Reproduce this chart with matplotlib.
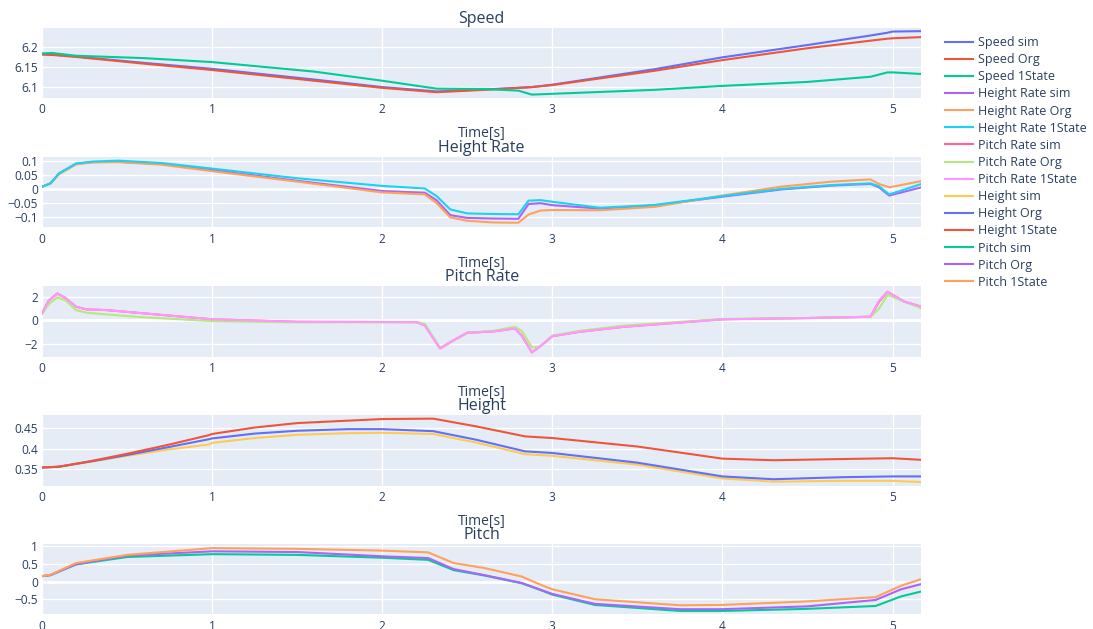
import numpy as np
import matplotlib.pyplot as plt

plt.rcParams['font.family'] = ['Open Sans', 'DejaVu Sans']

# --- Speed ---
t_speed = [0, 0.06, 0.2, 0.6, 1.0, 1.6, 2.0, 2.32, 2.6, 2.8, 2.88, 3.0, 3.6, 4.0, 4.5, 4.87, 4.97, 5.0, 5.17]
speed_sim = [6.182, 6.181, 6.176, 6.160, 6.145, 6.118, 6.099, 6.088, 6.093, 6.097, 6.099, 6.105,
             6.144, 6.174, 6.205, 6.229, 6.236, 6.239, 6.240]
speed_org = [6.181, 6.180, 6.175, 6.158, 6.142, 6.115, 6.097, 6.086, 6.092, 6.097, 6.099, 6.104,
             6.140, 6.167, 6.197, 6.216, 6.221, 6.222, 6.225]
speed_1state = [6.184, 6.185, 6.178, 6.172, 6.162, 6.138, 6.115, 6.095, 6.094, 6.090, 6.080, 6.082,
                6.092, 6.102, 6.112, 6.125, 6.136, 6.136, 6.132]

# --- Height Rate ---
t_hr = [0, 0.05, 0.1, 0.2, 0.3, 0.45, 0.7, 1.0, 1.5, 2.0, 2.25, 2.32, 2.4, 2.5, 2.65, 2.8, 2.86,
        2.93, 3.0, 3.28, 3.6, 4.0, 4.34, 4.64, 4.87, 4.92, 4.98, 5.17]
hr_sim = [0.008, 0.02, 0.055, 0.089, 0.095, 0.096, 0.088, 0.067, 0.029, -0.007, -0.013, -0.04,
          -0.092, -0.102, -0.104, -0.105, -0.053, -0.050, -0.057, -0.069, -0.058, -0.027, -0.002,
          0.012, 0.018, 0.006, -0.023, 0.006]
hr_org = [0.008, 0.02, 0.052, 0.087, 0.094, 0.095, 0.086, 0.063, 0.026, -0.012, -0.019, -0.05,
          -0.100, -0.112, -0.118, -0.119, -0.090, -0.076, -0.074, -0.075, -0.063, -0.023, 0.008,
          0.026, 0.034, 0.018, 0.006, 0.028]
hr_1state = [0.008, 0.02, 0.055, 0.090, 0.097, 0.100, 0.092, 0.072, 0.038, 0.011, 0.002, -0.025,
             -0.072, -0.086, -0.088, -0.089, -0.041, -0.039, -0.045, -0.066, -0.056, -0.025, 0.0,
             0.014, 0.020, 0.010, -0.019, 0.018]

# --- Pitch Rate ---
t_pr = [0, 0.04, 0.09, 0.14, 0.2, 0.26, 0.38, 0.6, 1.0, 1.5, 2.2, 2.25, 2.34, 2.42, 2.5, 2.65,
        2.78, 2.82, 2.88, 2.93, 3.0, 3.16, 3.42, 4.0, 4.5, 4.87, 4.92, 4.97, 5.07, 5.17]
pr_sim = [0.6, 1.7, 2.3, 1.9, 1.17, 0.94, 0.88, 0.6, 0.09, -0.12, -0.15, -0.4, -2.4, -1.7, -1.06,
          -0.95, -0.69, -1.3, -2.74, -2.2, -1.35, -0.98, -0.55, 0.09, 0.2, 0.31, 1.6, 2.45, 1.6, 1.17]
pr_org = [0.55, 1.4, 1.97, 1.7, 0.88, 0.66, 0.51, 0.26, -0.06, -0.17, -0.15, -0.3, -2.35, -1.7,
          -1.06, -0.9, -0.55, -0.9, -2.31, -2.25, -1.3, -0.9, -0.45, 0.12, 0.2, 0.31, 1.0, 2.19,
          1.6, 1.03]
pr_1state = [0.6, 1.7, 2.3, 1.9, 1.17, 0.94, 0.88, 0.6, 0.1, -0.12, -0.15, -0.45, -2.4, -1.7,
             -1.06, -0.95, -0.69, -1.35, -2.74, -2.2, -1.35, -0.98, -0.55, 0.09, 0.2, 0.31, 1.7,
             2.45, 1.6, 1.17]

# --- Height ---
t_h = [0, 0.1, 0.3, 0.5, 0.75, 0.98, 1.0, 1.25, 1.5, 1.8, 2.0, 2.3, 2.55, 2.84, 3.0, 3.5, 4.0,
       4.3, 4.7, 5.0, 5.17]
h_sim = [0.353, 0.355, 0.368, 0.382, 0.398, 0.410, 0.414, 0.426, 0.434, 0.438, 0.439, 0.436,
         0.415, 0.386, 0.382, 0.360, 0.326, 0.318, 0.320, 0.320, 0.317]
h_org = [0.353, 0.355, 0.369, 0.384, 0.404, 0.423, 0.425, 0.437, 0.444, 0.448, 0.448, 0.443,
         0.422, 0.393, 0.389, 0.365, 0.331, 0.324, 0.329, 0.331, 0.331]
h_1state = [0.353, 0.355, 0.370, 0.387, 0.410, 0.433, 0.436, 0.452, 0.463, 0.469, 0.473, 0.474,
            0.455, 0.430, 0.426, 0.405, 0.375, 0.371, 0.374, 0.376, 0.372]

# --- Pitch ---
t_p = [0, 0.05, 0.2, 0.5, 1.0, 1.5, 2.0, 2.27, 2.42, 2.6, 2.82, 2.93, 3.0, 3.25, 3.75, 4.0, 4.5,
       4.9, 5.05, 5.17]
p_sim = [0.15, 0.18, 0.48, 0.69, 0.77, 0.75, 0.67, 0.61, 0.32, 0.17, -0.05, -0.24, -0.37, -0.66,
         -0.83, -0.83, -0.77, -0.69, -0.42, -0.28]
p_org = [0.15, 0.18, 0.49, 0.73, 0.85, 0.83, 0.71, 0.66, 0.35, 0.18, -0.04, -0.23, -0.35, -0.63,
         -0.78, -0.78, -0.70, -0.52, -0.22, -0.07]
p_1state = [0.15, 0.19, 0.52, 0.75, 0.94, 0.92, 0.87, 0.82, 0.52, 0.38, 0.14, -0.09, -0.22, -0.50,
            -0.67, -0.66, -0.56, -0.44, -0.12, 0.07]

x_ticks = [0, 1, 2, 3, 4, 5]

panels = [
    ('Speed', t_speed, [('Speed sim', speed_sim), ('Speed Org', speed_org), ('Speed 1State', speed_1state)],
     (6.0722, 6.2487), [6.1, 6.15, 6.2], ['6.1', '6.15', '6.2']),
    ('Height Rate', t_hr, [('Height Rate sim', hr_sim), ('Height Rate Org', hr_org), ('Height Rate 1State', hr_1state)],
     (-0.135, 0.114), [-0.1, -0.05, 0, 0.05, 0.1], ['\u22120.1', '\u22120.05', '0', '0.05', '0.1']),
    ('Pitch Rate', t_pr, [('Pitch Rate sim', pr_sim), ('Pitch Rate Org', pr_org), ('Pitch Rate 1State', pr_1state)],
     (-3.11, 2.97), [-2, 0, 2], ['\u22122', '0', '2']),
    ('Height', t_h, [('Height sim', h_sim), ('Height Org', h_org), ('Height 1State', h_1state)],
     (0.308, 0.483), [0.35, 0.4, 0.45], ['0.35', '0.4', '0.45']),
    ('Pitch', t_p, [('Pitch sim', p_sim), ('Pitch Org', p_org), ('Pitch 1State', p_1state)],
     (-0.924, 1.048), [-0.5, 0, 0.5, 1], ['\u22120.5', '0', '0.5', '1']),
]

colors = ['#636efa', '#EF553B', '#00cc96', '#ab63fa', '#FFA15A', '#19d3f3', '#FF6692',
          '#B6E880', '#FF97FF', '#FECB52']
text_col = '#2a3f5f'

W, H = 1093, 629
fig = plt.figure(figsize=(W / 100, H / 100), dpi=100)

left, right = 42, 921.5
bottoms = [97.7, 227.3, 356.7, 485.7, 614.3]
tops = [27.7, 156.7, 285.7, 415.0, 544.3]

handles = []
k = 0
for i, (title, t, series, ylim, yt, ytl) in enumerate(panels):
    ax = fig.add_axes([left / W, 1 - bottoms[i] / H, (right - left) / W, (bottoms[i] - tops[i]) / H])
    ax.set_facecolor('#E5ECF6')
    for s in ax.spines.values():
        s.set_visible(False)
    ax.set_xlim(0, 5.17)
    ax.set_ylim(*ylim)
    ax.set_xticks(x_ticks)
    ax.set_yticks(yt, ytl)
    ax.grid(color='white', linewidth=1)
    ax.set_axisbelow(True)
    if ylim[0] < 0 < ylim[1]:
        ax.axhline(0, color='white', linewidth=2, zorder=0.9)
    ax.tick_params(length=0, labelsize=8.6, labelcolor=text_col, pad=3)
    ax.tick_params(axis='x', pad=4)
    for name, vals in series:
        ln, = ax.plot(t, vals, color=colors[k % len(colors)], linewidth=1.5, label=name)
        handles.append(ln)
        k += 1
    ax.set_title(title, fontsize=11.5, color=text_col, pad=3.5)
    # the bottom panel's axis title falls below the figure edge
    if i < len(panels) - 1:
        ax.set_xlabel('Time[s]', fontsize=10, color=text_col, labelpad=7)

fig.legend(handles=handles, loc='upper left', bbox_to_anchor=(945 / W, 1 - 36 / H),
           frameon=False, fontsize=9, labelcolor=text_col, handlelength=2.2,
           handletextpad=0.4, labelspacing=0.33, borderaxespad=0, borderpad=0)

fig.savefig('out.png', dpi=100)
